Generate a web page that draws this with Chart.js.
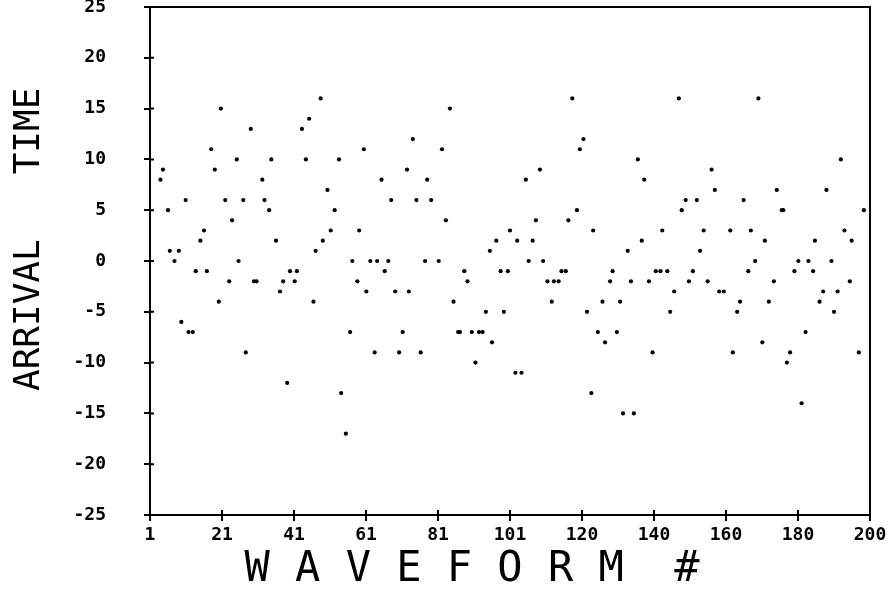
<!DOCTYPE html>
<html>
<head>
<meta charset="utf-8">
<title>Arrival time by waveform</title>
<script src="https://cdn.jsdelivr.net/npm/chart.js@4.4.0/dist/chart.umd.min.js"></script>
<style>
  html, body { margin: 0; padding: 0; background: #fff; }
</style>
</head>
<body>
<canvas id="myChart" width="889" height="591"></canvas>
<script>
// Waveform number of each pick
const waveform = [
    3.6, 2.9, 5.0, 5.5, 6.8, 8.0, 8.7, 9.9, 10.7, 11.9, 12.7, 14.0, 15.0, 15.8, 17.0, 18.0,
    19.1, 19.7, 20.9, 22.0, 22.8, 24.1, 24.6, 25.9, 26.6, 28.0, 28.9, 29.6, 31.2, 31.8, 33.1, 33.7,
    35.0, 36.1, 37.0, 38.1, 38.9, 40.2, 40.8, 42.2, 43.3, 44.2, 45.4, 46.0, 47.4, 48.0, 49.3, 50.2,
    51.3, 52.5, 53.1, 54.4, 55.6, 56.2, 57.6, 58.1, 59.4, 60.1, 61.2, 62.4, 63.1, 64.3, 65.2, 66.2,
    67.0, 68.1,
    69.2, 70.2, 71.4, 71.9, 73.0, 74.0, 75.2, 76.4, 77.0, 78.1, 80.2, 81.1, 82.2, 83.3, 84.3, 85.6,
    86.1, 87.3, 88.2, 89.4, 90.4, 91.4, 92.4, 93.3, 94.4, 95.0, 96.2, 97.4, 98.3, 99.4, 100.0, 101.5,
    102.0,
    103.2, 104.4, 105.2, 106.3, 107.2, 108.3, 109.2, 110.4, 111.6, 112.2, 113.5, 114.3, 115.5, 116.2,
    117.3, 118.6, 119.4, 120.4, 121.4, 122.6, 123.1, 124.4, 125.7, 126.4, 127.8, 128.5, 129.7, 130.6,
    131.4, 132.7, 133.6, 134.4, 135.5,
    136.6, 137.3, 138.6, 139.6, 140.5, 141.8, 142.3, 143.7, 144.5, 145.6, 146.9, 147.7, 148.8, 149.7,
    150.8, 151.9, 152.8, 153.8, 154.9, 156.0, 156.9, 158.1, 159.4, 161.2, 161.9, 163.1, 163.9, 164.9,
    166.2, 166.9, 168.1, 169.0,
    170.1, 170.8, 171.9, 173.3, 174.1, 175.5, 175.9, 176.9, 177.8, 179.0, 180.1, 181.0, 182.1, 182.9,
    184.2, 184.7, 186.0, 187.0, 187.9, 189.3, 190.0, 191.0, 191.9, 192.9, 194.4, 194.9, 196.9, 198.3
];

// Picked arrival time (samples) for each waveform
const arrival = [
    9, 8, 5, 1, 0, 1, -6, 6, -7, -7, -1, 2, 3, -1, 11, 9,
    -4, 15, 6, -2, 4, 10, 0, 6, -9, 13, -2, -2, 8, 6, 5, 10,
    2, -3, -2, -12, -1, -2, -1, 13, 10, 14, -4, 1, 16, 2, 7, 3,
    5, 10, -13, -17, -7, 0, -2, 3, 11, -3, 0, -9, 0, 8, -1, 0,
    6, -3,
    -9, -7, 9, -3, 12, 6, -9, 0, 8, 6, 0, 11, 4, 15, -4, -7,
    -7, -1, -2, -7, -10, -7, -7, -5, 1, -8, 2, -1, -5, -1, 3, -11,
    2,
    -11, 8, 0, 2, 4, 9, 0, -2, -4, -2, -2, -1, -1, 4,
    16, 5, 11, 12, -5, -13, 3, -7, -4, -8, -2, -1, -7, -4,
    -15, 1, -2, -15, 10,
    2, 8, -2, -9, -1, -1, 3, -1, -5, -3, 16, 5, 6, -2,
    -1, 6, 1, 3, -2, 9, 7, -3, -3, 3, -9, -5, -4, 6,
    -1, 3, 0, 16,
    -8, 2, -4, -2, 7, 5, 5, -10, -9, -1, 0, -14, -7, 0,
    -1, 2, -4, -3, 7, 0, -5, -3, 10, 3, -2, 2, -9, 5
];

// Axis ticks
const xTickValues = [0, 20, 40, 60, 80, 100, 120, 140, 160, 180, 200];
const xTickLabels = ['1', '21', '41', '61', '81', '101', '120', '140', '160', '180', '200'];
const yTickValues = [-25, -20, -15, -10, -5, 0, 5, 10, 15, 20, 25];

const points = waveform.map((w, i) => ({ x: w, y: arrival[i] }));

Chart.defaults.font.family = "'DejaVu Sans Mono', monospace";
Chart.defaults.color = '#000';

// Box round the plot plus short tick stubs on the inside
const plotFrame = {
    id: 'plotFrame',
    afterDraw(chart) {
        const { ctx, chartArea: a, scales } = chart;
        ctx.save();
        ctx.strokeStyle = '#000';
        ctx.lineWidth = 2;
        ctx.strokeRect(a.left, a.top, a.right - a.left, a.bottom - a.top);
        ctx.beginPath();
        yTickValues.forEach(v => {
            const y = scales.y.getPixelForValue(v);
            ctx.moveTo(a.left, y);
            ctx.lineTo(a.left + 4, y);
        });
        xTickValues.forEach(v => {
            const x = scales.x.getPixelForValue(v);
            ctx.moveTo(x, a.bottom);
            ctx.lineTo(x, a.bottom - 5);
        });
        ctx.stroke();
        ctx.restore();
    }
};

const ctx = document.getElementById('myChart').getContext('2d');
const myChart = new Chart(ctx, {
    type: 'scatter',
    data: {
        datasets: [{
            data: points,
            backgroundColor: '#000',
            borderWidth: 0,
            pointRadius: 2.1,
            pointHoverRadius: 2.1
        }]
    },
    options: {
        responsive: false,
        animation: false,
        layout: { padding: { top: 7, right: 19, left: 0, bottom: 0 } },
        plugins: {
            legend: { display: false },
            tooltip: { enabled: false }
        },
        scales: {
            x: {
                type: 'linear',
                min: 0,
                max: 200,
                afterBuildTicks: scale => {
                    scale.ticks = xTickValues.map(v => ({ value: v }));
                },
                afterFit: scale => {
                    scale.height = 76;
                    scale.paddingLeft = 0;
                    scale.paddingRight = 0;
                },
                ticks: {
                    autoSkip: false,
                    maxRotation: 0,
                    padding: 4,
                    font: { size: 18, weight: 'bold' },
                    callback: (value, index) => xTickLabels[index]
                },
                grid: {
                    drawOnChartArea: false,
                    drawTicks: true,
                    tickLength: 6,
                    color: '#000',
                    lineWidth: 2
                },
                border: { display: true, color: '#000', width: 2 },
                title: {
                    display: true,
                    text: 'W A V E F O R M  #   ',
                    font: { size: 42, lineHeight: 1 },
                    padding: 0
                }
            },
            y: {
                type: 'linear',
                min: -25,
                max: 25,
                afterBuildTicks: scale => {
                    scale.ticks = yTickValues.map(v => ({ value: v }));
                },
                afterFit: scale => {
                    scale.width = 150;
                    scale.paddingTop = 0;
                    scale.paddingBottom = 0;
                },
                ticks: {
                    padding: 38,
                    font: { size: 18, weight: 'bold' },
                    callback: value => String(value)
                },
                grid: {
                    drawOnChartArea: false,
                    drawTicks: true,
                    tickLength: 6,
                    color: '#000',
                    lineWidth: 2
                },
                border: { display: true, color: '#000', width: 2 },
                title: {
                    display: true,
                    text: '  ARRIVAL   TIME',
                    font: { size: 36, lineHeight: 1 },
                    padding: { top: 12, bottom: 0 }
                }
            }
        }
    },
    plugins: [plotFrame]
});
</script>
</body>
</html>
